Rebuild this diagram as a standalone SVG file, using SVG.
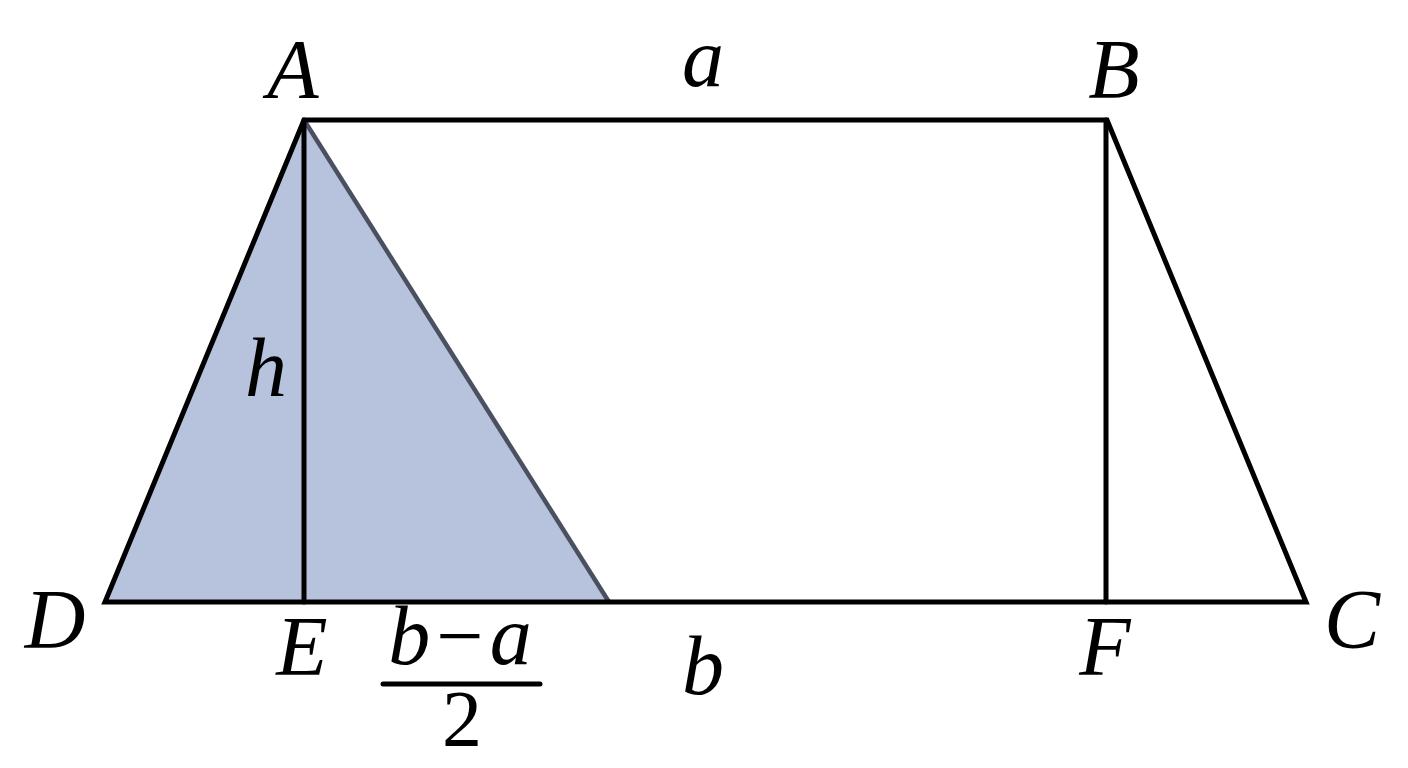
<svg xmlns="http://www.w3.org/2000/svg" width="1408" height="768" viewBox="0 0 1408 768">
<style>
.lbl{font-style:italic;font-size:84px;fill:#000;text-anchor:middle}
.num{font-size:80px;fill:#000;text-anchor:middle}
.edge{stroke:#000;stroke-width:5;fill:none;stroke-linecap:round;stroke-linejoin:miter}
</style>
<rect width="1408" height="768" fill="#fff"/>
<g id="shade">
<polygon points="304,120 105,602 609,602" fill="#b7c2dc"/>
</g>
<g id="connectors">
<line x1="304" y1="120" x2="609" y2="602" stroke="#4a5060" stroke-width="4.5"/>
<polygon class="edge" points="304,120 1107,120 1306,602 105,602"/>
<line class="edge" x1="304" y1="120" x2="304" y2="602"/>
<line class="edge" x1="1106" y1="120" x2="1106" y2="602"/>
<line class="edge" x1="383" y1="684" x2="540" y2="684"/>
</g>
<g font-family="Liberation Serif, DejaVu Serif, serif">
<g id="node-A"><text class="lbl" x="293" y="98">A</text></g>
<g id="node-B"><text class="lbl" x="1114" y="98">B</text></g>
<g id="node-C"><text class="lbl" x="1352" y="648">C</text></g>
<g id="node-D"><text class="lbl" x="55" y="648">D</text></g>
<g id="node-E"><text class="lbl" x="302" y="675">E</text></g>
<g id="node-F"><text class="lbl" x="1105" y="675">F</text></g>
<g id="label-a"><text class="lbl" x="703" y="86">a</text></g>
<g id="label-b"><text class="lbl" x="703" y="694">b</text></g>
<g id="label-h"><text class="lbl" x="266" y="396">h</text></g>
<g id="label-frac">
<text class="lbl" x="460" y="664">b<tspan font-style="normal" dx="6">−</tspan><tspan dx="6">a</tspan></text>
<text class="num" x="462" y="746">2</text>
</g>
</g>
</svg>
